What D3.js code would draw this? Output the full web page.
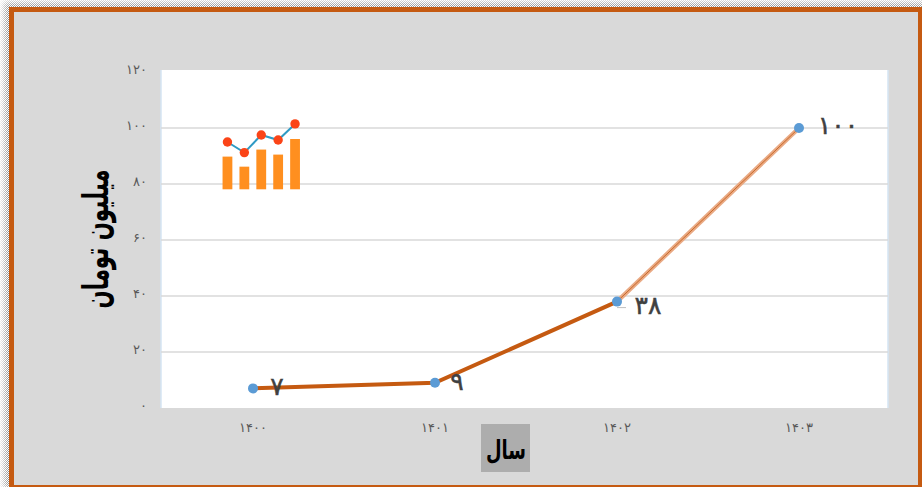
<!DOCTYPE html>
<html lang="fa">
<head>
<meta charset="utf-8">
<script src="https://cdn.jsdelivr.net/npm/d3@7"></script>
<style>
    html, body { margin: 0; padding: 0; background: #fff; overflow: hidden; }
    svg { display: block; }
    text { font-family: "DejaVu Sans", sans-serif; }
</style>
</head>
<body>
<svg id="chart"></svg>
<script>
// Chart values
const years = [1400, 1401, 1402, 1403];
const amounts = [7, 9, 38, 100];
const yTicks = [0, 20, 40, 60, 80, 100, 120];
const xTitle = 'سال';
const yTitle = 'میلیون تومان';

// Decorative icon values
const iconSlots = [0, 1, 2, 3, 4];
const iconBars = [65, 45, 79, 69, 100];
const iconLine = [94, 73, 108, 98, 130];

const persianDigits = '۰۱۲۳۴۵۶۷۸۹';
const toPersian = d => String(d).replace(/\d/g, c => persianDigits[+c]);

const width = 922, height = 487;
const plot = {left: 161, right: 888, top: 70, bottom: 408};

const svg = d3.select('#chart')
    .attr('width', width)
    .attr('height', height);

// Dithered shadow outside the frame
const defs = svg.append('defs');
const dither = defs.append('pattern')
    .attr('id', 'dither')
    .attr('width', 2)
    .attr('height', 2)
    .attr('patternUnits', 'userSpaceOnUse');
dither.append('rect').attr('width', 1).attr('height', 1).attr('fill', '#fff');
dither.append('rect').attr('x', 1).attr('y', 1).attr('width', 1).attr('height', 1).attr('fill', '#fff');

const blur = defs.append('filter').attr('id', 'soft');
blur.append('feGaussianBlur').attr('stdDeviation', 3);

svg.append('rect')
    .attr('x', 4).attr('y', 2)
    .attr('width', width).attr('height', height)
    .attr('fill', '#8f8f8f')
    .attr('filter', 'url(#soft)');
svg.append('rect')
    .attr('width', width).attr('height', height)
    .attr('fill', 'url(#dither)');

// Frame and panel
svg.append('rect')
    .attr('x', 9).attr('y', 7)
    .attr('width', 920).attr('height', 480)
    .attr('fill', '#c55a11');
svg.append('rect')
    .attr('x', 14).attr('y', 12)
    .attr('width', 904).attr('height', 473)
    .attr('fill', '#d9d9d9');

// Plot area
svg.append('rect')
    .attr('x', plot.left).attr('y', plot.top)
    .attr('width', plot.right - plot.left).attr('height', plot.bottom - plot.top)
    .attr('fill', '#fff');
svg.append('line')
    .attr('x1', plot.left).attr('x2', plot.left)
    .attr('y1', plot.top).attr('y2', plot.bottom)
    .attr('stroke', '#d5e4f3').attr('stroke-width', 1.5);
svg.append('line')
    .attr('x1', plot.right).attr('x2', plot.right)
    .attr('y1', plot.top).attr('y2', plot.bottom)
    .attr('stroke', '#d5e4f3').attr('stroke-width', 1.5);

// Scales
const xScale = d3.scaleBand()
    .domain(years)
    .range([162, 890]);

const yScale = d3.scaleLinear()
    .domain([0, 120])
    .range([plot.bottom, 72]);

const xCenter = d => xScale(d) + xScale.bandwidth() / 2;

// Grid lines
svg.append('g')
    .selectAll('line')
    .data(yTicks.filter(d => d > 0 && d < 120))
    .join('line')
    .attr('x1', plot.left)
    .attr('x2', plot.right)
    .attr('y1', d => yScale(d))
    .attr('y2', d => yScale(d))
    .attr('stroke', '#d9d9d9')
    .attr('stroke-width', 1.3);

// Axes
const yAxisG = svg.append('g')
    .attr('transform', `translate(${plot.left},-3)`)
    .call(d3.axisLeft(yScale).tickValues(yTicks).tickFormat(toPersian).tickSize(0).tickPadding(14))
    .call(g => g.select('.domain').remove());
yAxisG.selectAll('text')
    .attr('fill', '#595959')
    .style('font-size', '13px');

const xAxisG = svg.append('g')
    .attr('transform', `translate(0,${plot.bottom})`)
    .call(d3.axisBottom(xScale).tickFormat(toPersian).tickSize(0).tickPadding(15))
    .call(g => g.select('.domain').remove());
xAxisG.selectAll('text')
    .attr('fill', '#595959')
    .style('font-size', '13px')
    .style('letter-spacing', '2px');

// Line, the last segment is drawn lighter with a thin core
const points = years.map((y, i) => [xCenter(y), yScale(amounts[i])]);
const lineGen = d3.line();

svg.append('path')
    .attr('d', lineGen(points.slice(0, 3)))
    .attr('fill', 'none')
    .attr('stroke', '#c55a11')
    .attr('stroke-width', 4);
svg.append('path')
    .attr('d', lineGen(points.slice(2)))
    .attr('fill', 'none')
    .attr('stroke', '#e9a983')
    .attr('stroke-width', 4.4);
svg.append('path')
    .attr('d', lineGen(points.slice(2)))
    .attr('fill', 'none')
    .attr('stroke', '#c96a2a')
    .attr('stroke-width', 1);

// Small leader line next to the third point
svg.append('line')
    .attr('x1', xCenter(years[2]))
    .attr('x2', xCenter(years[2]) + 9)
    .attr('y1', yScale(amounts[2]) + 6)
    .attr('y2', yScale(amounts[2]) + 6)
    .attr('stroke', '#bfbfbf')
    .attr('stroke-width', 1);

svg.append('g')
    .selectAll('circle')
    .data(amounts)
    .join('circle')
    .attr('cx', (d, i) => xCenter(years[i]))
    .attr('cy', d => yScale(d))
    .attr('r', 5)
    .attr('fill', '#5b9bd5');

// Data labels
const labelOffsets = [[24, 7], [22, 7], [31, 12], [39, 6]];
svg.append('g')
    .selectAll('text')
    .data(amounts)
    .join('text')
    .attr('x', (d, i) => xCenter(years[i]) + labelOffsets[i][0])
    .attr('y', (d, i) => yScale(d) + labelOffsets[i][1])
    .attr('text-anchor', 'middle')
    .attr('fill', '#404040')
    .attr('stroke', '#404040')
    .attr('stroke-width', 0.5)
    .style('font-size', '25px')
    .style('letter-spacing', d => d === 100 ? '4px' : '2px')
    .text(toPersian);

// Axis titles
svg.append('rect')
    .attr('x', 481).attr('y', 424)
    .attr('width', 49).attr('height', 48)
    .attr('fill', '#adadad');
svg.append('text')
    .attr('transform', 'translate(506,459) scale(0.72,1.05)')
    .attr('text-anchor', 'middle')
    .attr('fill', '#000')
    .style('font-size', '25px')
    .style('font-weight', 'bold')
    .text(xTitle);
svg.append('text')
    .attr('transform', 'translate(108,239) rotate(-90) scale(0.79,1.3)')
    .attr('text-anchor', 'middle')
    .attr('fill', '#000')
    .style('font-size', '27px')
    .style('font-weight', 'bold')
    .text(yTitle);

// Combo chart icon
const iconX = d3.scaleBand()
    .domain(iconSlots)
    .range([219, 303.5])
    .paddingInner(0.42)
    .paddingOuter(0.21);
const iconY = d3.scaleLinear()
    .domain([0, 100])
    .range([189.3, 139]);
const icon = svg.append('g');

icon.selectAll('rect')
    .data(iconBars)
    .join('rect')
    .attr('x', (d, i) => iconX(iconSlots[i]))
    .attr('y', d => iconY(d))
    .attr('width', iconX.bandwidth())
    .attr('height', d => iconY(0) - iconY(d))
    .attr('fill', '#ff8f1f');

icon.append('path')
    .attr('d', d3.line()
        .x((d, i) => iconX(iconSlots[i]) + iconX.bandwidth() / 2)
        .y(d => iconY(d))(iconLine))
    .attr('fill', 'none')
    .attr('stroke', '#2f9ac4')
    .attr('stroke-width', 2);

icon.selectAll('circle')
    .data(iconLine)
    .join('circle')
    .attr('cx', (d, i) => iconX(iconSlots[i]) + iconX.bandwidth() / 2)
    .attr('cy', d => iconY(d))
    .attr('r', 4.7)
    .attr('fill', '#fb4417');
</script>
</body>
</html>
